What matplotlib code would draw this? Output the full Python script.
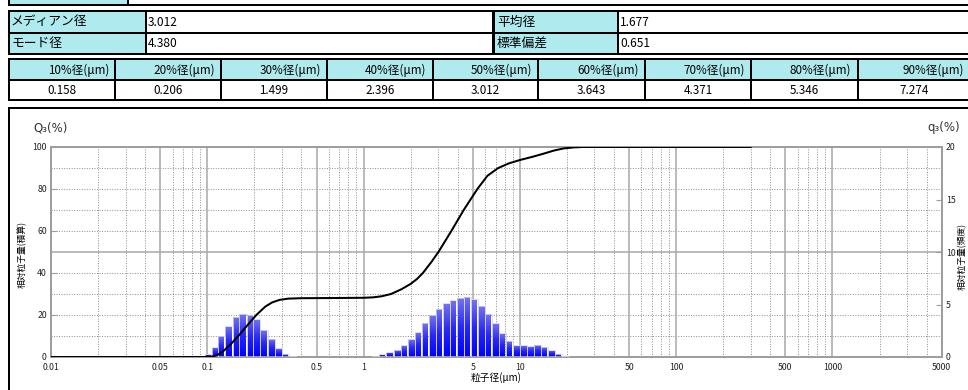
import numpy as np
import matplotlib
matplotlib.use("Agg")
import matplotlib.pyplot as plt
from matplotlib.patches import Rectangle
from matplotlib.colors import LinearSegmentedColormap

plt.rcParams['font.family'] = ['Noto Sans CJK JP', 'DejaVu Sans']

# ---- summary statistics -------------------------------------------------
summary_left_labels = ["メディアン径", "モード径"]
summary_left_values = ["3.012", "4.380"]
summary_right_labels = ["平均径", "標準偏差"]
summary_right_values = ["1.677", "0.651"]

# ---- percentile diameters ------------------------------------------------
pct_labels = ["10%径(μm)", "20%径(μm)", "30%径(μm)", "40%径(μm)", "50%径(μm)",
              "60%径(μm)", "70%径(μm)", "80%径(μm)", "90%径(μm)"]
pct_levels = [10, 20, 30, 40, 50, 60, 70, 80, 90]
pct_sizes = [0.158, 0.206, 1.499, 2.396, 3.012, 3.643, 4.371, 5.346, 7.274]

# ---- frequency distribution q3 (%) per size channel ----------------------
fine_edges = [0.0960, 0.1064, 0.1179, 0.1307, 0.1450, 0.1607, 0.1782, 0.1975,
              0.2190, 0.2428, 0.2692, 0.2985, 0.3309, 0.3669]
fine_q3 = [0.28, 0.92, 2.00, 2.92, 3.84, 4.12, 4.00, 3.58, 2.58, 1.74, 0.82,
           0.32, 0.10]

coarse_edges = [1.140, 1.264, 1.401, 1.554, 1.723, 1.910, 2.118, 2.348, 2.603,
                2.886, 3.199, 3.547, 3.932, 4.360, 4.833, 5.358, 5.941, 6.586,
                7.302, 8.095, 8.974, 9.949, 11.03, 12.23, 13.56, 15.03, 16.67,
                18.48, 20.49]
coarse_q3 = [0.12, 0.24, 0.46, 0.68, 1.12, 1.68, 2.38, 3.26, 4.02, 4.60, 5.10,
             5.42, 5.62, 5.74, 5.50, 4.86, 4.10, 3.20, 2.26, 1.56, 1.14, 1.12,
             1.04, 1.18, 0.98, 0.64, 0.32, 0.12]

# ---- cumulative distribution Q3 (%) --------------------------------------
cum_size = [0.01, 0.104, 0.115, 0.125, 0.14, 0.18, 0.235, 0.26, 0.29, 0.33,
            0.40, 0.70, 1.0, 1.15, 1.3, 1.75, 2.0, 2.2, 2.7, 6.2, 8.5, 10.0,
            12.0, 14.0, 16.5, 19.0, 22.0, 25.0, 300.0]
cum_Q3 = [0.0, 0.0, 0.8, 2.4, 5.8, 15.0, 24.0, 26.0, 27.2, 27.8,
          28.0, 28.1, 28.2, 28.4, 28.9, 32.3, 34.8, 37.2, 45.0, 86.3, 92.2, 93.8,
          95.3, 96.7, 98.3, 99.3, 99.8, 100.0, 100.0]

# ---- axis ticks ----------------------------------------------------------
x_major = [0.01, 0.05, 0.1, 0.5, 1, 5, 10, 50, 100, 500, 1000, 5000]
x_major_labels = ["0.01", "0.05", "0.1", "0.5", "1", "5", "10", "50", "100",
                  "500", "1000", "5000"]
Q_ticks = [0, 20, 40, 60, 80, 100]
q_ticks = [0, 5, 10, 15, 20]

W, H = 968, 390
CYAN = "#aeeaee"
GRID = "#8c8c8c"
FRAME = "#9c9c9c"

fig = plt.figure(figsize=(W / 100, H / 100), dpi=100)

# overlay in pixel units for the tables and the chart panel frame
ov = fig.add_axes([0, 0, 1, 1], zorder=0)
ov.set_xlim(0, W)
ov.set_ylim(H, 0)
ov.axis("off")


def px(v):
    return v * 0.72


def hline(y, x0, x1, w=2.0, c="black"):
    ov.plot([x0, x1], [y, y], color=c, lw=px(w), solid_capstyle="butt")


def vline(x, y0, y1, w=2.0, c="black"):
    ov.plot([x, x], [y0, y1], color=c, lw=px(w), solid_capstyle="butt")


def cell(x0, y0, x1, y1, fc):
    ov.add_patch(Rectangle((x0, y0), x1 - x0, y1 - y0, fc=fc, ec="none"))


# remnant of the cell above
cell(9, 0, 127, 4, CYAN)
hline(4.5, 8, W)
vline(127.5, 0, 5)
vline(8.5, 0, 5)

# summary table
rows = [(11, 32), (33, 53)]
for i, (y0, y1) in enumerate(rows):
    cell(9, y0, 145, y1, CYAN)
    cell(494, y0, 617, y1, CYAN)
    yc = (y0 + y1) / 2 + 0.5
    ov.text(11, yc, summary_left_labels[i], ha="left", va="center", fontsize=9.2)
    ov.text(148, yc, summary_left_values[i], ha="left", va="center", fontsize=8.6)
    ov.text(497, yc, summary_right_labels[i], ha="left", va="center", fontsize=9.2)
    ov.text(620, yc, summary_right_values[i], ha="left", va="center", fontsize=8.6)
for y in (10.5, 32.5, 53.5):
    hline(y, 8, W)
for x in (8.5, 145.5, 617.5):
    vline(x, 10, 54)
vline(492.5, 10, 54, w=3)

# percentile table
col_edges = [8.5, 115, 221, 327, 432.5, 538, 645, 751, 857.5, W + 2]
for i in range(9):
    x0, x1 = col_edges[i], col_edges[i + 1]
    cell(x0, 59, x1, 79, CYAN)
    ov.text(x1 - 6, 70, pct_labels[i], ha="right", va="center", fontsize=8.4)
    ov.text((x0 + x1) / 2, 90, f"{pct_sizes[i]:.3f}", ha="center", va="center",
            fontsize=8.4)
for y in (58.5, 79.5, 100):
    hline(y, 8, W)
for x in col_edges[:-1]:
    vline(x, 58, 100.5)

# chart panel frame
hline(107.5, 8, W)
vline(8.5, 107, H)

# ---- chart ---------------------------------------------------------------
left, right, top, bottom = 51, 941.7, 147, 357
ax = fig.add_axes([left / W, 1 - bottom / H, (right - left) / W,
                   (bottom - top) / H], zorder=2)
ax.set_facecolor("white")
ax.set_xscale("log")
axQ = ax.twinx()           # cumulative scale, drawn above the bars
axQ.set_zorder(3)
axQ.patch.set_visible(False)

# frequency bars with a vertical gradient
bar_cmap = LinearSegmentedColormap.from_list("bar", ["#0000ff", "#2828f6", "#7676ee"])
grad = np.linspace(0, 1, 128).reshape(-1, 1)
for edges, vals in ((fine_edges, fine_q3), (coarse_edges, coarse_q3)):
    lo = np.array(edges[:-1])
    hi = np.array(edges[1:])
    bars = ax.bar(lo, vals, width=hi - lo, align="edge", facecolor="none",
                  edgecolor="#d4d4e6", linewidth=0.55, zorder=3)
    for rect, x0, x1, v in zip(bars, lo, hi, vals):
        im = ax.imshow(grad, extent=(x0, x1, 0, v), origin="lower",
                       aspect="auto", cmap=bar_cmap, zorder=2,
                       interpolation="bilinear")
        im.set_clip_path(rect)

# horizontal grid (every 10 % of Q3 = every 2 % of q3)
for yv in (2, 4, 6, 8, 12, 14, 16, 18):
    ax.axhline(yv, color=GRID, lw=0.7, ls=(0, (1, 1.6)), zorder=1)
ax.axhline(10, color="#a8a8a8", lw=1.1, zorder=1)

# cumulative curve on the left-hand scale
pts = sorted(zip(cum_size + pct_sizes, cum_Q3 + pct_levels))
axQ.plot([p[0] for p in pts], [p[1] for p in pts], color="black", lw=1.45,
         zorder=5, solid_joinstyle="round")

# x axis: log scale with decade / half-decade labels
ax.set_xlim(0.01, 5000)
minor_x = [m * 10.0 ** d for d in range(-2, 4) for m in (2, 3, 4, 6, 7, 8, 9)]
minor_x = [v for v in minor_x if v < 5000]
ax.set_xticks(x_major)
ax.set_xticklabels(x_major_labels)
ax.set_xticks(minor_x, minor=True)
ax.xaxis.set_minor_formatter(plt.NullFormatter())
ax.grid(which="minor", axis="x", color=GRID, lw=0.7, ls=(0, (1, 1.6)), zorder=0)
ax.grid(which="major", axis="x", color="#a8a8a8", lw=1.1, zorder=0)
ax.tick_params(axis="x", which="both", length=0, labelsize=6.3, pad=4,
               labelcolor="#222222")
axQ.xaxis.set_visible(False)

# right axis: frequency
ax.set_ylim(0, 20)
ax.yaxis.tick_right()
ax.set_yticks(q_ticks)
ax.tick_params(axis="y", direction="in", length=4, color=FRAME, labelsize=6.3,
               pad=3, labelcolor="#222222", left=False, labelleft=False,
               right=True, labelright=True)

# left axis: cumulative
axQ.set_ylim(0, 100)
axQ.yaxis.tick_left()
axQ.set_yticks(Q_ticks)
axQ.tick_params(axis="y", direction="in", length=4, color=FRAME, labelsize=6.3,
                pad=3, labelcolor="#222222", left=True, labelleft=True,
                right=False, labelright=False)

for s in ax.spines.values():
    s.set_color(FRAME)
    s.set_linewidth(1.4)
for s in axQ.spines.values():
    s.set_visible(False)

# axis captions
fig.text(33 / W, 1 - 128 / H, "Q₃(%)", ha="left", va="center", fontsize=8.5,
         color="#333333", family=["DejaVu Sans"])
fig.text(960 / W, 1 - 128 / H, "q₃(%)", ha="right", va="center", fontsize=8.5,
         color="#333333", family=["DejaVu Sans"])
fig.text(22 / W, 1 - 254 / H, "相対粒子量(積算)", rotation=90, ha="center",
         va="center", fontsize=6.3)
fig.text(962 / W, 1 - 257 / H, "相対粒子量(頻度)", rotation=90, ha="center",
         va="center", fontsize=6.3)
fig.text(496 / W, 1 - 378 / H, "粒子径(μm)", ha="center", va="center",
         fontsize=7)

fig.savefig("out.png", dpi=100)
